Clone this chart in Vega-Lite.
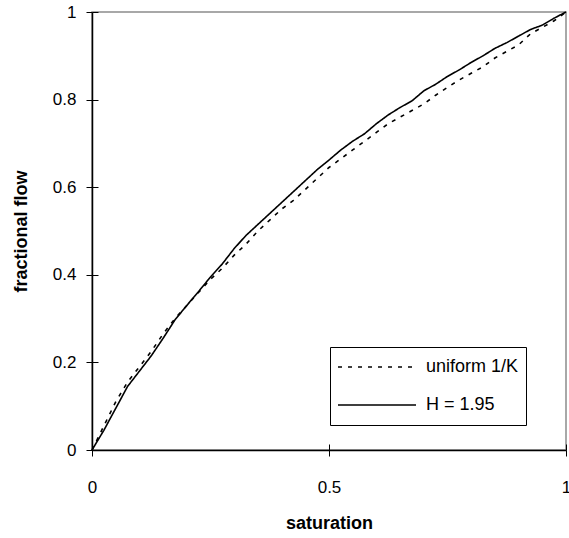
{
  "$schema": "https://vega.github.io/schema/vega-lite/v6.json",
  "width": 474,
  "height": 438,
  "autosize": "none",
  "padding": {"left": 92, "top": 12, "right": 3, "bottom": 88},
  "background": "white",
  "config": {
    "view": {"stroke": "#8c8c8c", "strokeWidth": 1.5},
    "font": "Liberation Sans",
    "axis": {
      "domainColor": "black",
      "domainWidth": 1.5,
      "tickColor": "black",
      "tickWidth": 1,
      "tickSize": 6,
      "grid": false,
      "labelFont": "Liberation Sans",
      "labelFontSize": 17,
      "labelColor": "black",
      "titleFont": "Liberation Sans",
      "titleFontSize": 18,
      "titleFontWeight": "bold",
      "titleColor": "black"
    },
    "legend": {
      "title": null,
      "orient": "none",
      "legendX": 238,
      "legendY": 335,
      "direction": "vertical",
      "strokeColor": "black",
      "fillColor": "white",
      "cornerRadius": 0,
      "padding": 7,
      "symbolType": "stroke",
      "symbolSize": 6084,
      "symbolStrokeWidth": 1.5,
      "symbolStrokeColor": "black",
      "clipHeight": 26,
      "labelFont": "Liberation Sans",
      "labelFontSize": 18,
      "labelColor": "black",
      "labelOffset": 9,
      "rowPadding": 12
    }
  },
  "data": {
    "values": [
      {"saturation": 0, "flow": 0, "series": "uniform 1/K"},
      {"saturation": 0.025, "flow": 0.055, "series": "uniform 1/K"},
      {"saturation": 0.05, "flow": 0.11, "series": "uniform 1/K"},
      {"saturation": 0.075, "flow": 0.155, "series": "uniform 1/K"},
      {"saturation": 0.1, "flow": 0.19, "series": "uniform 1/K"},
      {"saturation": 0.125, "flow": 0.225, "series": "uniform 1/K"},
      {"saturation": 0.15, "flow": 0.265, "series": "uniform 1/K"},
      {"saturation": 0.175, "flow": 0.3, "series": "uniform 1/K"},
      {"saturation": 0.2, "flow": 0.33, "series": "uniform 1/K"},
      {"saturation": 0.225, "flow": 0.36, "series": "uniform 1/K"},
      {"saturation": 0.25, "flow": 0.39, "series": "uniform 1/K"},
      {"saturation": 0.275, "flow": 0.415, "series": "uniform 1/K"},
      {"saturation": 0.3, "flow": 0.445, "series": "uniform 1/K"},
      {"saturation": 0.325, "flow": 0.47, "series": "uniform 1/K"},
      {"saturation": 0.35, "flow": 0.5, "series": "uniform 1/K"},
      {"saturation": 0.375, "flow": 0.525, "series": "uniform 1/K"},
      {"saturation": 0.4, "flow": 0.55, "series": "uniform 1/K"},
      {"saturation": 0.425, "flow": 0.57, "series": "uniform 1/K"},
      {"saturation": 0.45, "flow": 0.595, "series": "uniform 1/K"},
      {"saturation": 0.475, "flow": 0.62, "series": "uniform 1/K"},
      {"saturation": 0.5, "flow": 0.645, "series": "uniform 1/K"},
      {"saturation": 0.525, "flow": 0.665, "series": "uniform 1/K"},
      {"saturation": 0.55, "flow": 0.685, "series": "uniform 1/K"},
      {"saturation": 0.575, "flow": 0.705, "series": "uniform 1/K"},
      {"saturation": 0.6, "flow": 0.725, "series": "uniform 1/K"},
      {"saturation": 0.625, "flow": 0.745, "series": "uniform 1/K"},
      {"saturation": 0.65, "flow": 0.76, "series": "uniform 1/K"},
      {"saturation": 0.675, "flow": 0.775, "series": "uniform 1/K"},
      {"saturation": 0.7, "flow": 0.79, "series": "uniform 1/K"},
      {"saturation": 0.725, "flow": 0.81, "series": "uniform 1/K"},
      {"saturation": 0.75, "flow": 0.828, "series": "uniform 1/K"},
      {"saturation": 0.775, "flow": 0.845, "series": "uniform 1/K"},
      {"saturation": 0.8, "flow": 0.86, "series": "uniform 1/K"},
      {"saturation": 0.825, "flow": 0.875, "series": "uniform 1/K"},
      {"saturation": 0.85, "flow": 0.895, "series": "uniform 1/K"},
      {"saturation": 0.875, "flow": 0.91, "series": "uniform 1/K"},
      {"saturation": 0.9, "flow": 0.925, "series": "uniform 1/K"},
      {"saturation": 0.925, "flow": 0.95, "series": "uniform 1/K"},
      {"saturation": 0.95, "flow": 0.965, "series": "uniform 1/K"},
      {"saturation": 0.975, "flow": 0.98, "series": "uniform 1/K"},
      {"saturation": 1, "flow": 1, "series": "uniform 1/K"},
      {"saturation": 0, "flow": 0, "series": "H = 1.95"},
      {"saturation": 0.025, "flow": 0.045, "series": "H = 1.95"},
      {"saturation": 0.05, "flow": 0.095, "series": "H = 1.95"},
      {"saturation": 0.075, "flow": 0.145, "series": "H = 1.95"},
      {"saturation": 0.1, "flow": 0.18, "series": "H = 1.95"},
      {"saturation": 0.125, "flow": 0.215, "series": "H = 1.95"},
      {"saturation": 0.15, "flow": 0.255, "series": "H = 1.95"},
      {"saturation": 0.175, "flow": 0.297, "series": "H = 1.95"},
      {"saturation": 0.2, "flow": 0.33, "series": "H = 1.95"},
      {"saturation": 0.225, "flow": 0.362, "series": "H = 1.95"},
      {"saturation": 0.25, "flow": 0.395, "series": "H = 1.95"},
      {"saturation": 0.275, "flow": 0.425, "series": "H = 1.95"},
      {"saturation": 0.3, "flow": 0.46, "series": "H = 1.95"},
      {"saturation": 0.325, "flow": 0.49, "series": "H = 1.95"},
      {"saturation": 0.35, "flow": 0.515, "series": "H = 1.95"},
      {"saturation": 0.375, "flow": 0.54, "series": "H = 1.95"},
      {"saturation": 0.4, "flow": 0.565, "series": "H = 1.95"},
      {"saturation": 0.425, "flow": 0.59, "series": "H = 1.95"},
      {"saturation": 0.45, "flow": 0.615, "series": "H = 1.95"},
      {"saturation": 0.475, "flow": 0.64, "series": "H = 1.95"},
      {"saturation": 0.5, "flow": 0.662, "series": "H = 1.95"},
      {"saturation": 0.525, "flow": 0.685, "series": "H = 1.95"},
      {"saturation": 0.55, "flow": 0.705, "series": "H = 1.95"},
      {"saturation": 0.575, "flow": 0.722, "series": "H = 1.95"},
      {"saturation": 0.6, "flow": 0.745, "series": "H = 1.95"},
      {"saturation": 0.625, "flow": 0.765, "series": "H = 1.95"},
      {"saturation": 0.65, "flow": 0.782, "series": "H = 1.95"},
      {"saturation": 0.675, "flow": 0.797, "series": "H = 1.95"},
      {"saturation": 0.7, "flow": 0.82, "series": "H = 1.95"},
      {"saturation": 0.725, "flow": 0.835, "series": "H = 1.95"},
      {"saturation": 0.75, "flow": 0.853, "series": "H = 1.95"},
      {"saturation": 0.775, "flow": 0.868, "series": "H = 1.95"},
      {"saturation": 0.8, "flow": 0.885, "series": "H = 1.95"},
      {"saturation": 0.825, "flow": 0.9, "series": "H = 1.95"},
      {"saturation": 0.85, "flow": 0.917, "series": "H = 1.95"},
      {"saturation": 0.875, "flow": 0.93, "series": "H = 1.95"},
      {"saturation": 0.9, "flow": 0.945, "series": "H = 1.95"},
      {"saturation": 0.925, "flow": 0.96, "series": "H = 1.95"},
      {"saturation": 0.95, "flow": 0.97, "series": "H = 1.95"},
      {"saturation": 0.975, "flow": 0.986, "series": "H = 1.95"},
      {"saturation": 1, "flow": 1, "series": "H = 1.95"}
    ]
  },
  "resolve": {"axis": {"x": "independent", "y": "independent"}},
  "layer": [
    {
      "transform": [{"filter": "datum.series === 'uniform 1/K'"}],
      "mark": {"type": "line", "color": "black", "strokeWidth": 1.6, "clip": false},
      "encoding": {
        "x": {
          "field": "saturation",
          "type": "quantitative",
          "scale": {"domain": [0, 1], "nice": false, "zero": false},
          "axis": {
            "orient": "bottom",
            "values": [0, 0.5, 1],
            "format": "~g",
            "title": "saturation",
            "labelPadding": 23,
            "titlePadding": 19,
            "labelFlush": false
          }
        },
        "y": {
          "field": "flow",
          "type": "quantitative",
          "scale": {"domain": [0, 1], "nice": false, "zero": false},
          "axis": {
            "orient": "left",
            "values": [0, 0.2, 0.4, 0.6, 0.8, 1],
            "format": "~g",
            "title": "fractional flow",
            "labelPadding": 10,
            "titlePadding": 22,
            "labelFlush": false
          }
        },
        "strokeDash": {
          "field": "series",
          "type": "nominal",
          "scale": {
            "domain": ["uniform 1/K", "H = 1.95"],
            "range": [[4, 6], [1, 0]]
          }
        }
      }
    },
    {
      "transform": [{"filter": "datum.series === 'H = 1.95'"}],
      "mark": {"type": "line", "color": "black", "strokeWidth": 1.6, "clip": false},
      "encoding": {
        "x": {
          "field": "saturation",
          "type": "quantitative",
          "axis": {
            "orient": "bottom",
            "values": [0, 0.5, 1],
            "tickSize": -6,
            "labels": false,
            "domain": false,
            "title": null
          }
        },
        "y": {
          "field": "flow",
          "type": "quantitative",
          "axis": {
            "orient": "left",
            "values": [0, 0.2, 0.4, 0.6, 0.8, 1],
            "tickSize": -6,
            "labels": false,
            "domain": false,
            "title": null
          }
        },
        "strokeDash": {"field": "series", "type": "nominal"}
      }
    }
  ]
}
